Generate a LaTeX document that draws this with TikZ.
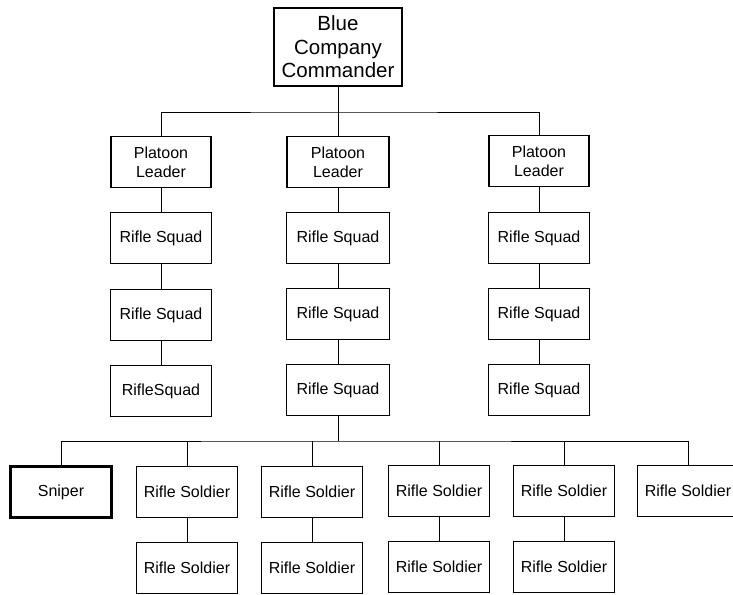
\documentclass[tikz,border=0pt]{standalone}
\usepackage{fontspec}
\setmainfont{Liberation Sans}
\begin{document}
\begin{tikzpicture}[x=1pt,y=-1pt]

\tikzset{unit/.style = {shape=rectangle,draw,line width=1.2pt,minimum width=101pt,minimum height=51pt,inner sep=0pt,align=center,font=\fontsize{16}{19}\selectfont}}
\tikzset{sniper/.style = {unit,line width=2.8pt}}
\tikzset{link/.style = {line width=0.9pt}}
\useasboundingbox (0,0) rectangle (733,594);
%commander
\node[unit, minimum width=128pt, minimum height=78pt, font=\fontsize{20.5}{23.5}\selectfont] (cc) at (338,47) {Blue\\Company\\Commander};
%platoons
\node[unit, minimum width=100pt] (p1) at (161,162) {Platoon\\Leader};
\node[unit, minimum width=102pt] (p2) at (338,162) {Platoon\\Leader};
\node[unit, minimum width=100pt] (p3) at (539,161) {Platoon\\Leader};
%squads
\node[unit] (s11) at (161,238) {Rifle Squad};
\node[unit] (s12) at (161,315) {Rifle Squad};
\node[unit] (s13) at (161,391) {RifleSquad};
\node[unit, minimum width=103pt] (s21) at (338,238) {Rifle Squad};
\node[unit, minimum width=103pt] (s22) at (338,314) {Rifle Squad};
\node[unit, minimum width=103pt] (s23) at (338,390) {Rifle Squad};
\node[unit] (s31) at (539,238) {Rifle Squad};
\node[unit] (s32) at (539,314) {Rifle Squad};
\node[unit] (s33) at (539,390) {Rifle Squad};
%soldiers
\node[sniper] (sn) at (61,492) {Sniper};
\node[unit] (r1) at (187,492) {Rifle Soldier};
\node[unit] (r2) at (312,492) {Rifle Soldier};
\node[unit] (r3) at (439,491) {Rifle Soldier};
\node[unit] (r4) at (564,491) {Rifle Soldier};
\node[unit] (r5) at (688,491) {Rifle Soldier};
\node[unit] (q1) at (187,568) {Rifle Soldier};
\node[unit] (q2) at (312,568) {Rifle Soldier};
\node[unit] (q3) at (439,567) {Rifle Soldier};
\node[unit] (q4) at (564,567) {Rifle Soldier};
%buses
\coordinate (b1) at (338,112);
\coordinate (b2) at (338,441);
%edges
\draw[link] (cc) -- (p2);
\draw[link] (p1.north) |- (b1) -| (p3.north);
\foreach \c in {1,2,3} {
  \draw[link] (p\c) -- (s\c1);
  \draw[link] (s\c1) -- (s\c2);
  \draw[link] (s\c2) -- (s\c3);
}
\draw[link] (s23) -- (b2);
\draw[link] (sn.north) |- (b2) -| (r5.north);
\foreach \c in {1,2,3,4} {
  \draw[link] (r\c.north) -- (r\c.north |- b2);
  \draw[link] (r\c) -- (q\c);
}

\end{tikzpicture}
\end{document}
